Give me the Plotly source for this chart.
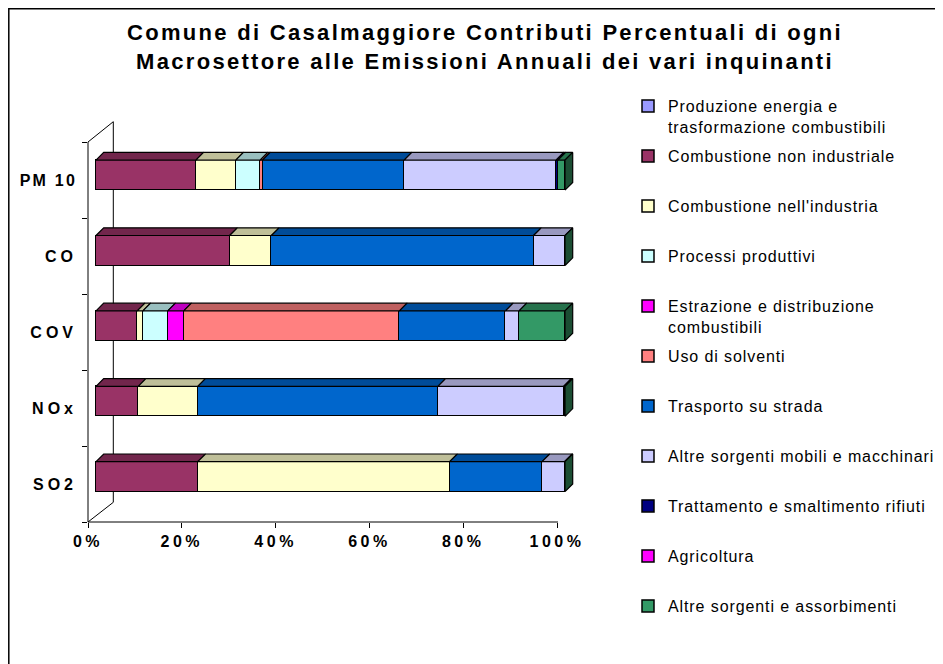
import plotly.graph_objects as go

# ---------------- data ----------------
categories = ["SO2", "NOx", "COV", "CO", "PM 10"]          # bottom -> top
x_tick_values = [0, 20, 40, 60, 80, 100]

sector_names = [
    "Produzione energia e<br>trasformazione combustibili",
    "Combustione non industriale",
    "Combustione nell'industria",
    "Processi produttivi",
    "Estrazione e distribuzione<br>combustibili",
    "Uso di solventi",
    "Trasporto su strada",
    "Altre sorgenti mobili e macchinari",
    "Trattamento e smaltimento rifiuti",
    "Agricoltura",
    "Altre sorgenti e assorbimenti",
]

#                              SO2   NOx   COV   CO    PM10
produzione_energia          = [0.0,  0.0,  0.0,  0.0,  0.0]
combustione_non_industriale = [21.7, 9.0,  8.8,  28.5, 21.3]
combustione_industria       = [53.7, 12.7, 1.2,  8.9,  8.5]
processi_produttivi         = [0.0,  0.0,  5.3,  0.0,  5.2]
estrazione_distribuzione    = [0.0,  0.0,  3.4,  0.0,  0.0]
uso_solventi                = [0.0,  0.0,  46.0, 0.0,  0.5]
trasporto_strada            = [19.7, 51.2, 22.6, 55.9, 30.2]
altre_sorgenti_mobili       = [4.8,  26.8, 2.9,  6.7,  32.4]
trattamento_rifiuti         = [0.0,  0.0,  0.0,  0.0,  0.4]
agricoltura                 = [0.0,  0.0,  0.0,  0.0,  0.0]
altre_sorgenti_assorb       = [0.1,  0.3,  9.8,  0.0,  1.5]

series = [
    produzione_energia, combustione_non_industriale, combustione_industria,
    processi_produttivi, estrazione_distribuzione, uso_solventi,
    trasporto_strada, altre_sorgenti_mobili, trattamento_rifiuti,
    agricoltura, altre_sorgenti_assorb,
]

# ---------------- style ----------------
colors = ["#9999FF", "#993366", "#FFFFCC", "#CCFFFF", "#FF00FF", "#FF8080",
          "#0066CC", "#CCCCFF", "#000080", "#FF00FF", "#339966"]
SIDE_COLOR = "#1B4D33"
FONT = "Arial, 'Liberation Sans', sans-serif"

BODY = 8                      # page body margin in the browser
WIN_W, WIN_H = 943, 664
W_PX, H_PX = WIN_W - BODY, WIN_H - BODY
# reference (window) pixel geometry
PLOT_L, PLOT_R, PLOT_T, PLOT_B = 88, 575, 142, 522
PX_PER_PCT = 4.69
BAR_FRONT_LEFT = 96
BAR0_CENTER = 476.7
PX_PER_CAT = 75.4
DEPTH_PX = 7.7
BAR_W = 0.398

x_range = [(PLOT_L - BAR_FRONT_LEFT) / PX_PER_PCT, (PLOT_R - BAR_FRONT_LEFT) / PX_PER_PCT]
x2_range = [0, (PLOT_R - PLOT_L) / PX_PER_PCT]
y_range = [-(PLOT_B - BAR0_CENTER) / PX_PER_CAT, (BAR0_CENTER - PLOT_T) / PX_PER_CAT]
dx = DEPTH_PX / PX_PER_PCT
dy = DEPTH_PX / PX_PER_CAT
half = BAR_W / 2


def darker(hex_color, f=0.75):
    h = hex_color.lstrip("#")
    r, g, b = (int(h[i:i + 2], 16) for i in (0, 2, 4))
    return "#%02X%02X%02X" % (int(r * f), int(g * f), int(b * f))


def px_x(px):
    return (px - PLOT_L) / (PLOT_R - PLOT_L)


def px_y(py):
    return (PLOT_B - py) / (PLOT_B - PLOT_T)


def cx(px):
    return (px - BODY) / W_PX


def cy(py):
    return 1 - (py - BODY) / H_PX


def spaced(text, ls):
    return "<br>".join('<span style="letter-spacing:%spx">%s</span>' % (ls, part)
                       for part in text.split("<br>"))


positions = list(range(len(categories)))
fig = go.Figure()

# front faces (stacked bars)
for i, (name, vals) in enumerate(zip(sector_names, series)):
    key = "legend" if i == 0 else f"legend{i + 1}"
    fig.add_trace(go.Bar(
        name=spaced(name, 0.9), orientation="h", y=positions,
        x=[v if v > 0 else None for v in vals],
        width=BAR_W, marker=dict(color=colors[i], line=dict(color="#000000", width=1.5)),
        legend=key, hoverinfo="skip",
    ))

# top faces (3D look) derived from cumulative values
cum = [0.0] * len(categories)
for i, vals in enumerate(series):
    xs, ys = [], []
    for c, v in enumerate(vals):
        a, b = cum[c], cum[c] + v
        if v > 0:
            yt = positions[c] + half
            xs += [a, b, b + dx, a + dx, a, None]
            ys += [yt, yt, yt + dy, yt + dy, yt, None]
        cum[c] = b
    if xs:
        fig.add_trace(go.Scatter(
            x=xs, y=ys, mode="lines", fill="toself", fillcolor=darker(colors[i]),
            line=dict(color="#000000", width=1.2), showlegend=False, hoverinfo="skip",
        ))

# right side faces
sx, sy = [], []
for c, end in enumerate(cum):
    y0 = positions[c] - half
    y1 = positions[c] + half
    sx += [end, end + dx, end + dx, end, end, None]
    sy += [y0, y0 + dy, y1 + dy, y1, y0, None]
fig.add_trace(go.Scatter(
    x=sx, y=sy, mode="lines", fill="toself", fillcolor=SIDE_COLOR,
    line=dict(color="#000000", width=1.2), showlegend=False, hoverinfo="skip",
))

# carrier trace for the floor / wall axes
fig.add_trace(go.Scatter(
    x=[0, 25, 50, 75, 100], y=categories, xaxis="x2", yaxis="y2",
    mode="markers", marker=dict(opacity=0), showlegend=False, hoverinfo="skip",
))

tick_font = dict(family=FONT, size=16, color="#000000", weight="bold")

fig.update_layout(
    width=W_PX, height=H_PX,
    margin=dict(l=PLOT_L - BODY, r=W_PX - (PLOT_R - BODY), t=PLOT_T - BODY,
                b=H_PX - (PLOT_B - BODY), pad=0, autoexpand=False),
    paper_bgcolor="#FFFFFF", plot_bgcolor="rgba(0,0,0,0)",
    barmode="stack", bargap=0,
    title=dict(
        text="<b>" + spaced("Comune di Casalmaggiore Contributi Percentuali di ogni<br>"
                            "Macrosettore alle Emissioni Annuali dei vari inquinanti", 2.3) + "</b>",
        x=cx(485), xanchor="center", xref="container",
        y=1 - 32 / H_PX, yanchor="top", yref="container",
        font=dict(family=FONT, size=22, color="#000000"),
    ),
    xaxis=dict(range=x_range, visible=False, fixedrange=True),
    yaxis=dict(range=y_range, visible=False, fixedrange=True),
    xaxis2=dict(
        overlaying="x", anchor="y", side="bottom", range=x2_range,
        tickmode="array", tickvals=x_tick_values,
        ticktext=[spaced(f"{v}%", 3.5) for v in x_tick_values],
        ticks="outside", ticklen=5, tickcolor="#000000", tickwidth=1,
        showline=False, showgrid=False, zeroline=False, tickfont=tick_font,
        fixedrange=True, automargin=False,
    ),
    yaxis2=dict(
        overlaying="y", anchor="x", side="left", type="category",
        categoryorder="array", categoryarray=categories,
        range=[-0.5, len(categories) - 0.5],
        tickmode="array", tickvals=categories,
        ticktext=[spaced(c, 2.2 if " " in c else 4) for c in categories],
        tickson="boundaries", ticks="outside", ticklen=5, tickcolor="#000000",
        tickwidth=1, showline=False, showgrid=False, zeroline=False,
        tickfont=tick_font, ticklabelstandoff=10, fixedrange=True, automargin=False,
    ),
    font=dict(family=FONT, color="#000000"),
)

# legends: one per sector, evenly spaced as in the reference
LEG_TEXT_X = 628
LEG_FIRST = 106.5
LEG_STEP = 50
LEG_OFF = 17.5
for i in range(len(sector_names)):
    key = "legend" if i == 0 else f"legend{i + 1}"
    fig.update_layout(**{key: dict(
        xref="container", yref="container",
        x=cx(LEG_TEXT_X), xanchor="left",
        y=cy(LEG_FIRST + LEG_STEP * i - LEG_OFF), yanchor="top",
        bgcolor="rgba(0,0,0,0)", borderwidth=0, valign="top",
        font=dict(family=FONT, size=16, color="#000000"),
    )})

# 3D walls / floor edges and outer frame (window pixel positions)
line_style = dict(color="#000000", width=1)
edges = [
    (88, 522, 558, 522),           # floor front edge
    (88, 142, 88, 522),            # wall front edge
    (88, 142, 113.3, 121.7),       # wall top diagonal
    (113.3, 121.7, 113.3, 502.3),  # back wall edge
    (88, 522, 113.3, 502.3),       # floor diagonal
]
for x0, y0, x1, y1 in edges:
    fig.add_shape(type="line", xref="paper", yref="paper",
                  x0=px_x(x0), y0=px_y(y0), x1=px_x(x1), y1=px_y(y1),
                  line=line_style, layer="below")
fig.add_shape(type="rect", xref="paper", yref="paper",
              x0=px_x(BODY + 0.8), y0=px_y(BODY + 0.8), x1=px_x(990), y1=px_y(720),
              line=dict(color="#000000", width=1.5), layer="below")

fig.write_html("out.html", config={"displayModeBar": False})
